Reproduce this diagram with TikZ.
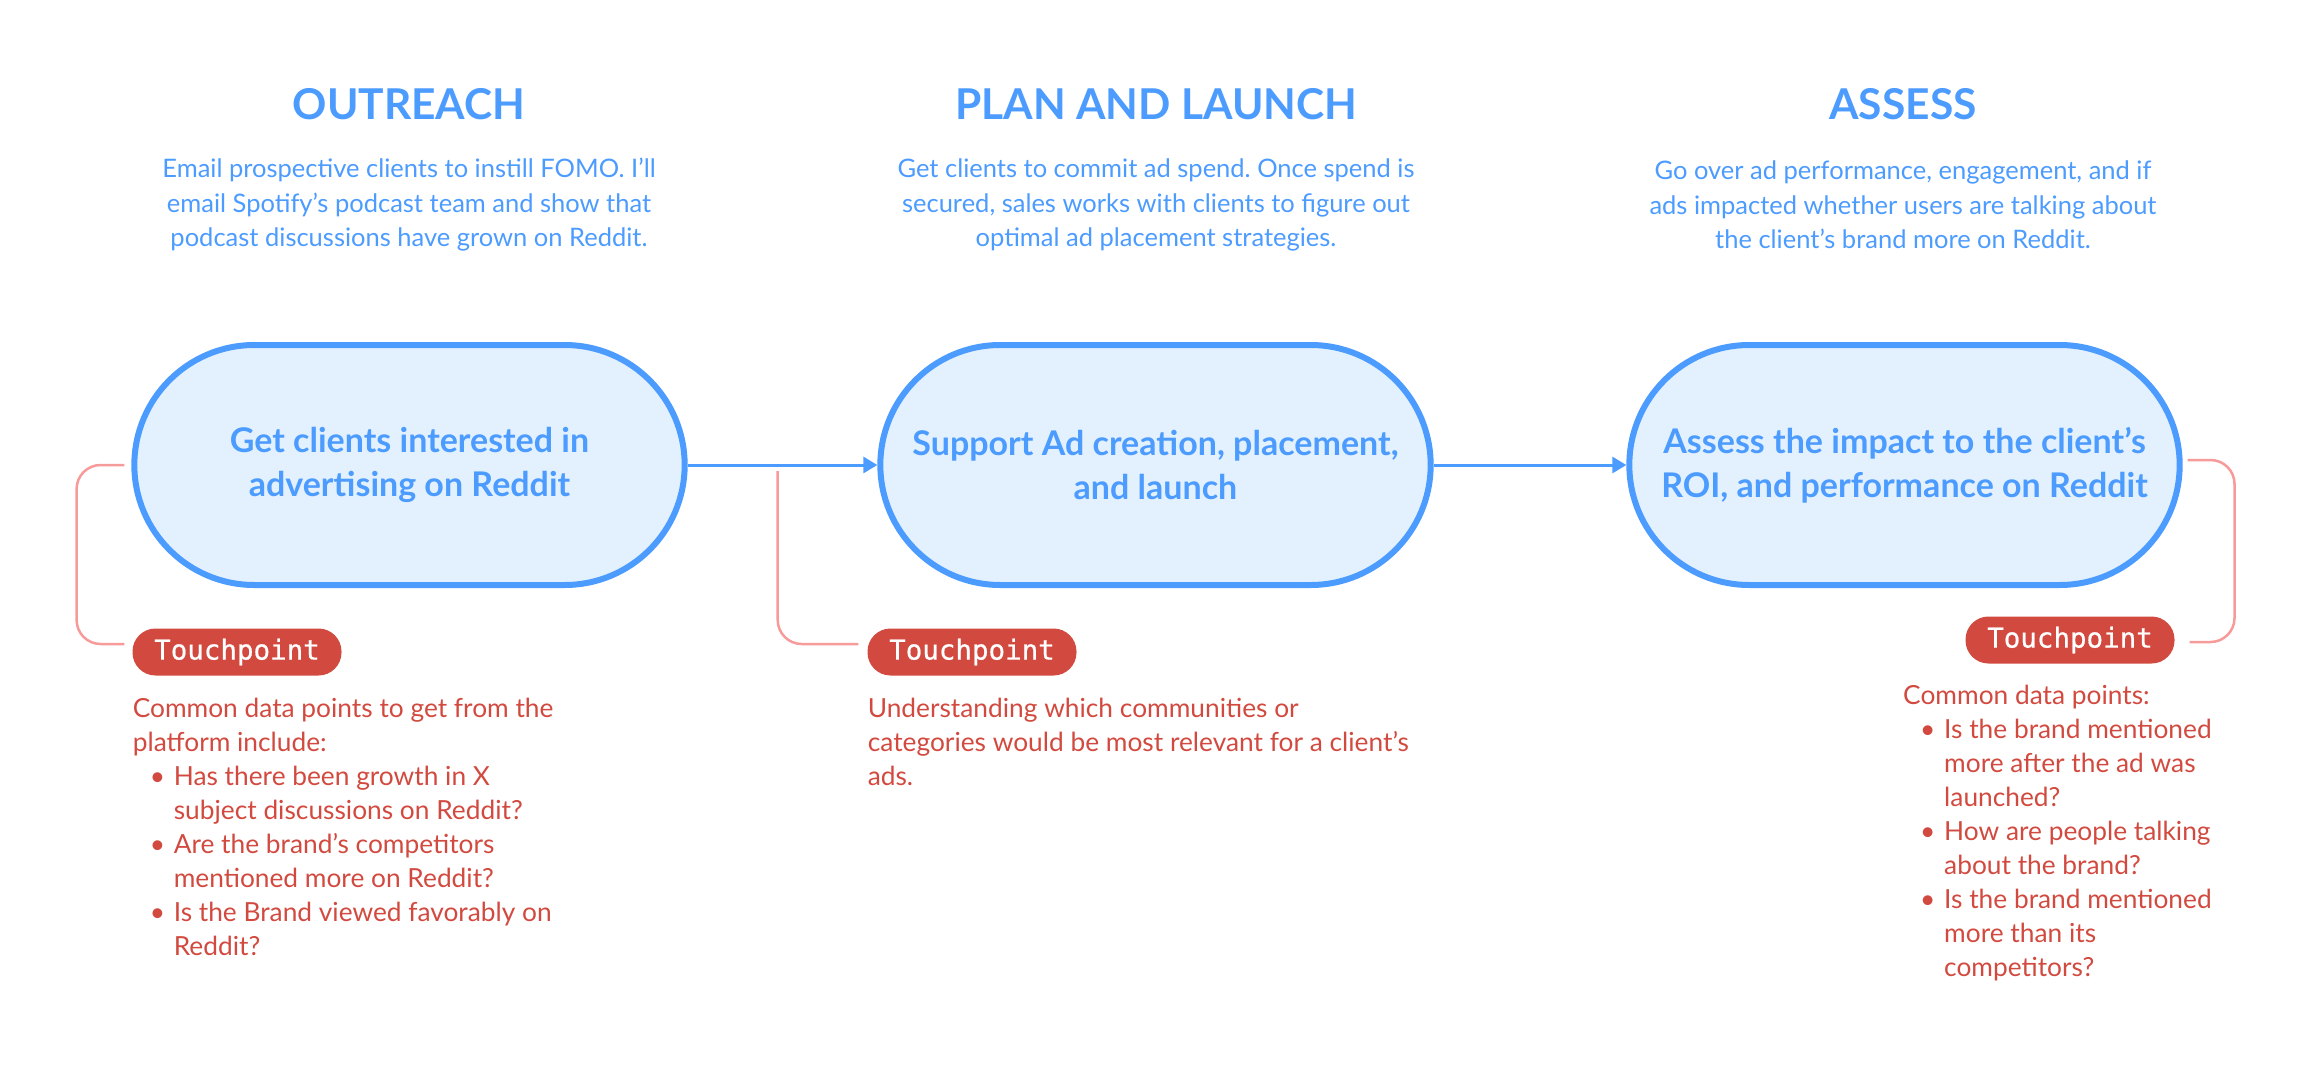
\documentclass[tikz,border=0pt]{standalone}
\usepackage{fontspec}
\setmainfont{Lato}
\newfontfamily\monofont[BoldFont={DejaVu Sans Mono},BoldFeatures={FakeBold=0.6}]{DejaVu Sans Mono}
\usetikzlibrary{arrows.meta,shapes.misc}
\definecolor{bluetxt}{HTML}{4C9BFF}
\definecolor{pillfill}{HTML}{E3F1FE}
\definecolor{redtxt}{HTML}{D24A3F}
\definecolor{pinkline}{HTML}{F79A9A}
\frenchspacing
\newcommand{\bitem}[1]{\hspace*{17pt}\makebox[24pt][l]{\textbullet}#1}
\newcommand{\bcont}[1]{\hspace*{41pt}#1}
\tikzset{
  title/.style={text=bluetxt, font=\fontsize{42.5}{50}\selectfont\bfseries, anchor=center},
  desc/.style={text=bluetxt, font=\fontsize{25.5}{34.5}\selectfont, align=center, anchor=center},
  pill/.style={rounded rectangle, draw=bluetxt, fill=pillfill, line width=6pt,
    minimum width=557pt, minimum height=240pt, text=bluetxt,
    font=\fontsize{34}{44}\selectfont\bfseries, align=center},
  tpbox/.style={rounded corners=23pt, fill=redtxt, text=white, minimum width=209pt,
    minimum height=47pt, font=\monofont\bfseries\fontsize{27.5}{30}\selectfont, inner sep=0pt},
  note/.style={text=redtxt, font=\fontsize{26.3}{34}\selectfont, align=left, anchor=north west, inner sep=0pt},
  flow/.style={draw=bluetxt, line width=3pt, -{Triangle[length=14pt,width=16pt]}},
  bracket/.style={draw=pinkline, line width=2.5pt, rounded corners=24pt}
}
\begin{document}
\begin{tikzpicture}[x=1pt,y=1pt]
\useasboundingbox (0,0) rectangle (2310,-1092);

% titles
\node[title] (t1) at (409,-104) {OUTREACH};
\node[title] (t2) at (1156,-104) {PLAN AND LAUNCH};
\node[title] (t3) at (1903,-104) {ASSESS};

% descriptions
\node[desc] (d1) at (409,-205) {Email prospective clients to instill FOMO. I’ll\\email Spotify’s podcast team and show that\\podcast discussions have grown on Reddit.};
\node[desc] (d2) at (1156,-205) {Get clients to commit ad spend. Once spend is\\secured, sales works with clients to figure out\\optimal ad placement strategies.};
\node[desc] (d3) at (1903,-205) {Go over ad performance, engagement, and if\\ads impacted whether users are talking about\\the client’s brand more on Reddit.};

% pills
\node[pill] (p1) at (409.5,-465) {Get clients interested in\\advertising on Reddit};
\node[pill] (p2) at (1155.5,-465) {Support Ad creation, placement,\\and launch};
\node[pill] (p3) at (1904.5,-465) {Assess the impact to the client’s\\ROI, and performance on Reddit};

\draw[flow] (p1.east) -- (p2.west);
\draw[flow] (p2.east) -- (p3.west);

% touchpoints
\node[tpbox] (tp1) at (237,-652) {Touchpoint};
\node[tpbox] (tp2) at (972,-652) {Touchpoint};
\node[tpbox] (tp3) at (2070,-640) {Touchpoint};

\coordinate (b2s) at (777.7,-471);
\draw[bracket] ([xshift=-7pt]p1.west) -| (76.6,-644) -- ([xshift=-8pt]tp1.west |- 0,-644);
\draw[bracket] (b2s) |- ([xshift=-9pt]tp2.west |- 0,-644);
\draw[bracket] ([xshift=5pt,yshift=5pt]p3.east) -| (2234.5,-642) -- ([xshift=15pt]tp3.east |- 0,-642);

% notes
\node[note] (n1) at (132.6,-698) {Common data points to get from the\\platform include:\\
\bitem{Has there been growth in X}\\\bcont{subject discussions on Reddit?}\\
\bitem{Are the brand’s competitors}\\\bcont{mentioned more on Reddit?}\\
\bitem{Is the Brand viewed favorably on}\\\bcont{Reddit?}};
\node[note] (n2) at (867.6,-698) {Understanding which communities or\\categories would be most relevant for a client’s\\ads.};
\node[note] (n3) at (1903,-685) {Common data points:\\
\bitem{Is the brand mentioned}\\\bcont{more after the ad was}\\\bcont{launched?}\\
\bitem{How are people talking}\\\bcont{about the brand?}\\
\bitem{Is the brand mentioned}\\\bcont{more than its}\\\bcont{competitors?}};
\end{tikzpicture}
\end{document}
